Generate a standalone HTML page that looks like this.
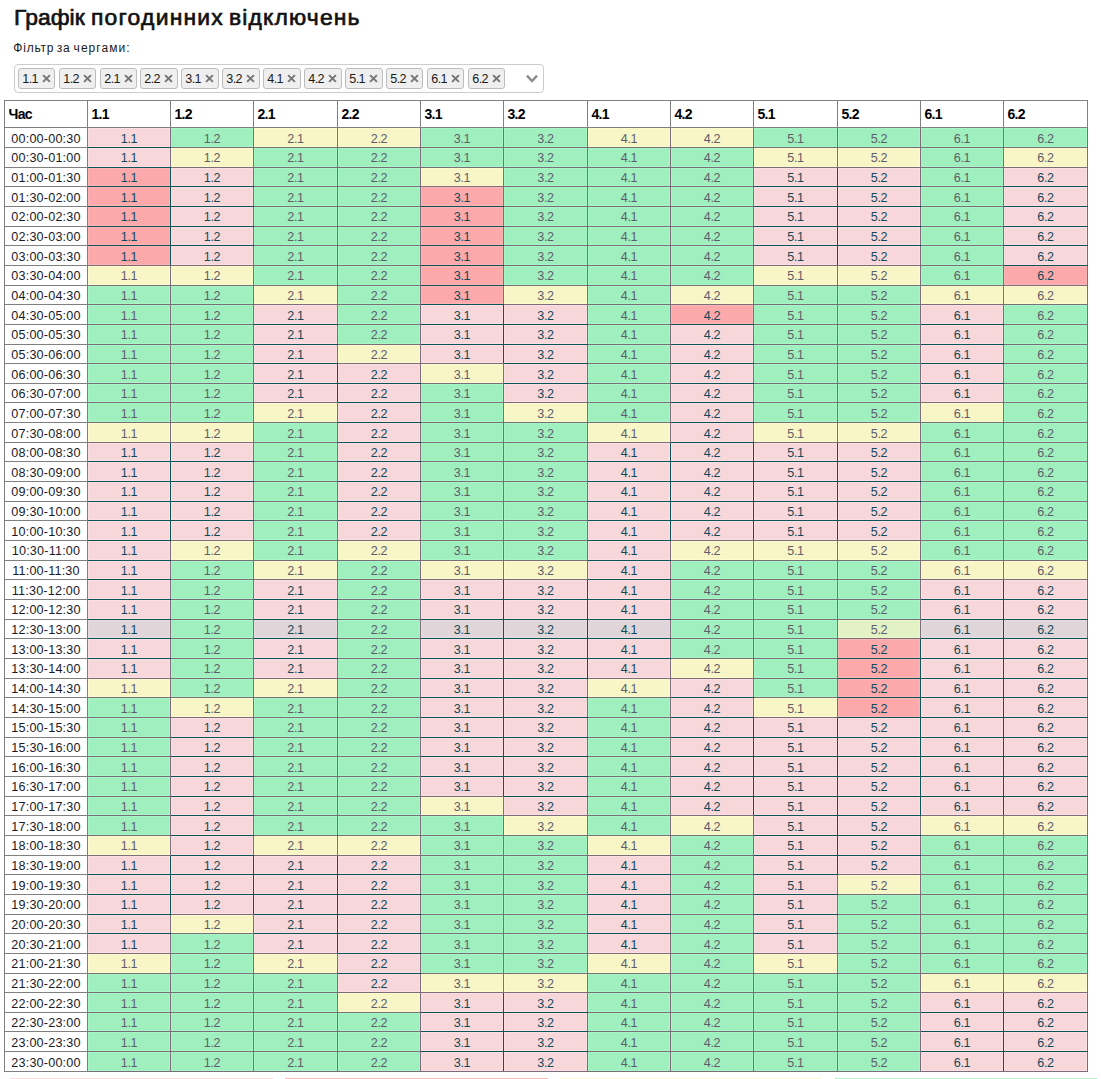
<!DOCTYPE html>
<html lang="uk"><head><meta charset="utf-8"><title>Графік погодинних відключень</title>
<style>
html,body{margin:0;padding:0;background:#fff;}
body{width:1101px;height:1079px;overflow:hidden;position:relative;font-family:"Liberation Sans",sans-serif;color:#000;}
h2{position:absolute;left:0;top:5px;margin:0;width:600px;height:26px;font-size:21.8px;line-height:26px;font-weight:normal;color:#111;-webkit-text-stroke:0.65px #111;white-space:nowrap;}
h2 span{position:absolute;top:0;transform:scaleX(1.05);transform-origin:0 0;}
.lbl{position:absolute;left:0;top:40px;width:300px;height:16px;font-size:12px;line-height:16px;color:#1a1a1a;white-space:nowrap;}
.lbl span{position:absolute;top:0;}
.sel{position:absolute;left:14px;top:64px;width:528px;height:27px;border:1px solid #ccc;border-radius:4px;box-sizing:content-box;background:#fff;}
.chip{position:absolute;top:3px;height:19px;width:35px;border:1px solid #bdbdbd;border-radius:3px;background:#efefef;font-size:12.6px;line-height:19px;color:#1a1a1a;box-sizing:content-box;white-space:nowrap;}
.chip span{position:absolute;left:3.2px;top:1px;letter-spacing:-0.55px;}
.chip svg{position:absolute;left:22.2px;top:3.7px;}
.arrow{position:absolute;left:508.8px;top:6.5px;}
table{position:absolute;left:4px;top:100px;width:1084px;border-collapse:collapse;table-layout:fixed;font-size:12.6px;}
th,td{border:1px solid #808080;padding:0;overflow:hidden;white-space:nowrap;}
th{text-align:left;padding:0 0 1px 3.4px;font-weight:bold;font-size:14px;letter-spacing:-0.6px;color:#000;box-sizing:border-box;height:27px;}
td{text-align:center;line-height:14px;color:#5e5e6b;letter-spacing:-0.35px;vertical-align:top;box-sizing:border-box;}
tr.h20 td{height:20px;}tr.h19 td{height:19px;}
tr.o3 td{padding-top:3px;}tr.o4 td{padding-top:4px;}
td.t{color:#1a1a2a;letter-spacing:0.2px;}
td.p,td.r,td.h,td.g,td.y,td.x{border-color:#7c6d7b;}
td.p{background:#f8d7da;color:#0f4a58;box-shadow:inset 0 0 0 1px #fcdfe2;}
td.r{background:#fca9ab;color:#0f4a58;box-shadow:inset 0 0 0 1px #feb3b5;}
td.h{background:#e0d6d9;color:#0f4a58;box-shadow:inset 0 0 0 1px #e6dde0;}
td.T{border-top-color:#0a5356;}td.B{border-bottom-color:#0a5356;}td.L{border-left-color:#0a5356;}td.R{border-right-color:#0a5356;}
td.g{background:#a0efbf;box-shadow:inset 0 0 0 1px #a5f8c5;}
td.y{background:#f8f5c6;box-shadow:inset 0 0 0 1px #fcfbcc;}
td.x{background:#e3f2c4;box-shadow:inset 0 0 0 1px #e8f8ca;}
.lg{position:absolute;top:1078px;height:1px;}
</style></head>
<body>
<h2><span style="left:13.8px;letter-spacing:0.05px">Графік </span><span style="left:90.5px;letter-spacing:1.16px">погодинних </span><span style="left:228.5px;letter-spacing:1.1px">відключень</span></h2>
<div class="lbl"><span style="left:13.3px;letter-spacing:0.78px">Фільтр </span><span style="left:56.8px;letter-spacing:0.58px">за </span><span style="left:73.6px;letter-spacing:1.05px">чергами:</span></div>
<div class="sel">
<div class="chip" style="left:3px;width:35px"><span>1.1</span><svg width="11" height="11" viewBox="0 0 11 11"><path d="M2.1 2.1 L8.9 8.9 M8.9 2.1 L2.1 8.9" fill="none" stroke="#777" stroke-width="2"/></svg></div>
<div class="chip" style="left:44px;width:35px"><span>1.2</span><svg width="11" height="11" viewBox="0 0 11 11"><path d="M2.1 2.1 L8.9 8.9 M8.9 2.1 L2.1 8.9" fill="none" stroke="#777" stroke-width="2"/></svg></div>
<div class="chip" style="left:85px;width:35px"><span>2.1</span><svg width="11" height="11" viewBox="0 0 11 11"><path d="M2.1 2.1 L8.9 8.9 M8.9 2.1 L2.1 8.9" fill="none" stroke="#777" stroke-width="2"/></svg></div>
<div class="chip" style="left:125px;width:36px"><span>2.2</span><svg width="11" height="11" viewBox="0 0 11 11"><path d="M2.1 2.1 L8.9 8.9 M8.9 2.1 L2.1 8.9" fill="none" stroke="#777" stroke-width="2"/></svg></div>
<div class="chip" style="left:166px;width:36px"><span>3.1</span><svg width="11" height="11" viewBox="0 0 11 11"><path d="M2.1 2.1 L8.9 8.9 M8.9 2.1 L2.1 8.9" fill="none" stroke="#777" stroke-width="2"/></svg></div>
<div class="chip" style="left:207px;width:36px"><span>3.2</span><svg width="11" height="11" viewBox="0 0 11 11"><path d="M2.1 2.1 L8.9 8.9 M8.9 2.1 L2.1 8.9" fill="none" stroke="#777" stroke-width="2"/></svg></div>
<div class="chip" style="left:248px;width:36px"><span>4.1</span><svg width="11" height="11" viewBox="0 0 11 11"><path d="M2.1 2.1 L8.9 8.9 M8.9 2.1 L2.1 8.9" fill="none" stroke="#777" stroke-width="2"/></svg></div>
<div class="chip" style="left:289px;width:36px"><span>4.2</span><svg width="11" height="11" viewBox="0 0 11 11"><path d="M2.1 2.1 L8.9 8.9 M8.9 2.1 L2.1 8.9" fill="none" stroke="#777" stroke-width="2"/></svg></div>
<div class="chip" style="left:330px;width:36px"><span>5.1</span><svg width="11" height="11" viewBox="0 0 11 11"><path d="M2.1 2.1 L8.9 8.9 M8.9 2.1 L2.1 8.9" fill="none" stroke="#777" stroke-width="2"/></svg></div>
<div class="chip" style="left:371px;width:35px"><span>5.2</span><svg width="11" height="11" viewBox="0 0 11 11"><path d="M2.1 2.1 L8.9 8.9 M8.9 2.1 L2.1 8.9" fill="none" stroke="#777" stroke-width="2"/></svg></div>
<div class="chip" style="left:412px;width:35px"><span>6.1</span><svg width="11" height="11" viewBox="0 0 11 11"><path d="M2.1 2.1 L8.9 8.9 M8.9 2.1 L2.1 8.9" fill="none" stroke="#777" stroke-width="2"/></svg></div>
<div class="chip" style="left:453px;width:35px"><span>6.2</span><svg width="11" height="11" viewBox="0 0 11 11"><path d="M2.1 2.1 L8.9 8.9 M8.9 2.1 L2.1 8.9" fill="none" stroke="#777" stroke-width="2"/></svg></div>
<svg class="arrow" width="16" height="14" viewBox="0 0 16 14"><path d="M3 3.6 L8 9 L13 3.6" fill="none" stroke="#8a8a8a" stroke-width="2.3"/></svg>
</div>
<table><colgroup><col style="width:83px"><col style="width:83px"><col style="width:83px"><col style="width:84px"><col style="width:83px"><col style="width:83px"><col style="width:84px"><col style="width:83px"><col style="width:83px"><col style="width:84px"><col style="width:83px"><col style="width:83px"><col style="width:84px"></colgroup><thead><tr><th>Час</th><th>1.1</th><th>1.2</th><th>2.1</th><th>2.2</th><th>3.1</th><th>3.2</th><th>4.1</th><th>4.2</th><th>5.1</th><th>5.2</th><th>6.1</th><th>6.2</th></tr></thead>
<tbody>
<tr class="h20 o4"><td class="t">00:00-00:30</td><td class="p B">1.1</td><td class="g">1.2</td><td class="y">2.1</td><td class="y">2.2</td><td class="g">3.1</td><td class="g">3.2</td><td class="y">4.1</td><td class="y">4.2</td><td class="g">5.1</td><td class="g">5.2</td><td class="g">6.1</td><td class="g">6.2</td></tr>
<tr class="h20 o3"><td class="t">00:30-01:00</td><td class="p T B">1.1</td><td class="y">1.2</td><td class="g">2.1</td><td class="g">2.2</td><td class="g">3.1</td><td class="g">3.2</td><td class="g">4.1</td><td class="g">4.2</td><td class="y">5.1</td><td class="y">5.2</td><td class="g">6.1</td><td class="y">6.2</td></tr>
<tr class="h19 o3"><td class="t">01:00-01:30</td><td class="r T B R">1.1</td><td class="p B L">1.2</td><td class="g">2.1</td><td class="g">2.2</td><td class="y">3.1</td><td class="g">3.2</td><td class="g">4.1</td><td class="g">4.2</td><td class="p B R">5.1</td><td class="p B L">5.2</td><td class="g">6.1</td><td class="p B">6.2</td></tr>
<tr class="h20 o4"><td class="t">01:30-02:00</td><td class="r T B R">1.1</td><td class="p T B L">1.2</td><td class="g">2.1</td><td class="g">2.2</td><td class="r B">3.1</td><td class="g">3.2</td><td class="g">4.1</td><td class="g">4.2</td><td class="p T B R">5.1</td><td class="p T B L">5.2</td><td class="g">6.1</td><td class="p T B">6.2</td></tr>
<tr class="h20 o3"><td class="t">02:00-02:30</td><td class="r T B R">1.1</td><td class="p T B L">1.2</td><td class="g">2.1</td><td class="g">2.2</td><td class="r T B">3.1</td><td class="g">3.2</td><td class="g">4.1</td><td class="g">4.2</td><td class="p T B R">5.1</td><td class="p T B L">5.2</td><td class="g">6.1</td><td class="p T B">6.2</td></tr>
<tr class="h19 o3"><td class="t">02:30-03:00</td><td class="r T B R">1.1</td><td class="p T B L">1.2</td><td class="g">2.1</td><td class="g">2.2</td><td class="r T B">3.1</td><td class="g">3.2</td><td class="g">4.1</td><td class="g">4.2</td><td class="p T B R">5.1</td><td class="p T B L">5.2</td><td class="g">6.1</td><td class="p T B">6.2</td></tr>
<tr class="h20 o4"><td class="t">03:00-03:30</td><td class="r T R">1.1</td><td class="p T L">1.2</td><td class="g">2.1</td><td class="g">2.2</td><td class="r T B">3.1</td><td class="g">3.2</td><td class="g">4.1</td><td class="g">4.2</td><td class="p T R">5.1</td><td class="p T L">5.2</td><td class="g">6.1</td><td class="p T B">6.2</td></tr>
<tr class="h20 o3"><td class="t">03:30-04:00</td><td class="y">1.1</td><td class="y">1.2</td><td class="g">2.1</td><td class="g">2.2</td><td class="r T B">3.1</td><td class="g">3.2</td><td class="g">4.1</td><td class="g">4.2</td><td class="y">5.1</td><td class="y">5.2</td><td class="g">6.1</td><td class="r T">6.2</td></tr>
<tr class="h19 o3"><td class="t">04:00-04:30</td><td class="g">1.1</td><td class="g">1.2</td><td class="y">2.1</td><td class="g">2.2</td><td class="r T B">3.1</td><td class="y">3.2</td><td class="g">4.1</td><td class="y">4.2</td><td class="g">5.1</td><td class="g">5.2</td><td class="y">6.1</td><td class="y">6.2</td></tr>
<tr class="h20 o4"><td class="t">04:30-05:00</td><td class="g">1.1</td><td class="g">1.2</td><td class="p B">2.1</td><td class="g">2.2</td><td class="p T B R">3.1</td><td class="p B L">3.2</td><td class="g">4.1</td><td class="r B">4.2</td><td class="g">5.1</td><td class="g">5.2</td><td class="p B">6.1</td><td class="g">6.2</td></tr>
<tr class="h20 o3"><td class="t">05:00-05:30</td><td class="g">1.1</td><td class="g">1.2</td><td class="p T B">2.1</td><td class="g">2.2</td><td class="p T B R">3.1</td><td class="p T B L">3.2</td><td class="g">4.1</td><td class="p T B">4.2</td><td class="g">5.1</td><td class="g">5.2</td><td class="p T B">6.1</td><td class="g">6.2</td></tr>
<tr class="h19 o3"><td class="t">05:30-06:00</td><td class="g">1.1</td><td class="g">1.2</td><td class="p T B">2.1</td><td class="y">2.2</td><td class="p T R">3.1</td><td class="p T B L">3.2</td><td class="g">4.1</td><td class="p T B">4.2</td><td class="g">5.1</td><td class="g">5.2</td><td class="p T B">6.1</td><td class="g">6.2</td></tr>
<tr class="h20 o4"><td class="t">06:00-06:30</td><td class="g">1.1</td><td class="g">1.2</td><td class="p T B R">2.1</td><td class="p B L">2.2</td><td class="y">3.1</td><td class="p T B">3.2</td><td class="g">4.1</td><td class="p T B">4.2</td><td class="g">5.1</td><td class="g">5.2</td><td class="p T B">6.1</td><td class="g">6.2</td></tr>
<tr class="h19 o3"><td class="t">06:30-07:00</td><td class="g">1.1</td><td class="g">1.2</td><td class="p T R">2.1</td><td class="p T B L">2.2</td><td class="g">3.1</td><td class="p T">3.2</td><td class="g">4.1</td><td class="p T B">4.2</td><td class="g">5.1</td><td class="g">5.2</td><td class="p T">6.1</td><td class="g">6.2</td></tr>
<tr class="h20 o4"><td class="t">07:00-07:30</td><td class="g">1.1</td><td class="g">1.2</td><td class="y">2.1</td><td class="p T B">2.2</td><td class="g">3.1</td><td class="y">3.2</td><td class="g">4.1</td><td class="p T B">4.2</td><td class="g">5.1</td><td class="g">5.2</td><td class="y">6.1</td><td class="g">6.2</td></tr>
<tr class="h20 o4"><td class="t">07:30-08:00</td><td class="y">1.1</td><td class="y">1.2</td><td class="g">2.1</td><td class="p T B">2.2</td><td class="g">3.1</td><td class="g">3.2</td><td class="y">4.1</td><td class="p T B">4.2</td><td class="y">5.1</td><td class="y">5.2</td><td class="g">6.1</td><td class="g">6.2</td></tr>
<tr class="h19 o3"><td class="t">08:00-08:30</td><td class="p B R">1.1</td><td class="p B L">1.2</td><td class="g">2.1</td><td class="p T B">2.2</td><td class="g">3.1</td><td class="g">3.2</td><td class="p B R">4.1</td><td class="p T B L R">4.2</td><td class="p B L R">5.1</td><td class="p B L">5.2</td><td class="g">6.1</td><td class="g">6.2</td></tr>
<tr class="h20 o4"><td class="t">08:30-09:00</td><td class="p T B R">1.1</td><td class="p T B L">1.2</td><td class="g">2.1</td><td class="p T B">2.2</td><td class="g">3.1</td><td class="g">3.2</td><td class="p T B R">4.1</td><td class="p T B L R">4.2</td><td class="p T B L R">5.1</td><td class="p T B L">5.2</td><td class="g">6.1</td><td class="g">6.2</td></tr>
<tr class="h20 o3"><td class="t">09:00-09:30</td><td class="p T B R">1.1</td><td class="p T B L">1.2</td><td class="g">2.1</td><td class="p T B">2.2</td><td class="g">3.1</td><td class="g">3.2</td><td class="p T B R">4.1</td><td class="p T B L R">4.2</td><td class="p T B L R">5.1</td><td class="p T B L">5.2</td><td class="g">6.1</td><td class="g">6.2</td></tr>
<tr class="h19 o3"><td class="t">09:30-10:00</td><td class="p T B R">1.1</td><td class="p T B L">1.2</td><td class="g">2.1</td><td class="p T B">2.2</td><td class="g">3.1</td><td class="g">3.2</td><td class="p T B R">4.1</td><td class="p T B L R">4.2</td><td class="p T B L R">5.1</td><td class="p T B L">5.2</td><td class="g">6.1</td><td class="g">6.2</td></tr>
<tr class="h20 o4"><td class="t">10:00-10:30</td><td class="p T B R">1.1</td><td class="p T L">1.2</td><td class="g">2.1</td><td class="p T">2.2</td><td class="g">3.1</td><td class="g">3.2</td><td class="p T B R">4.1</td><td class="p T L R">4.2</td><td class="p T L R">5.1</td><td class="p T L">5.2</td><td class="g">6.1</td><td class="g">6.2</td></tr>
<tr class="h20 o3"><td class="t">10:30-11:00</td><td class="p T B">1.1</td><td class="y">1.2</td><td class="g">2.1</td><td class="y">2.2</td><td class="g">3.1</td><td class="g">3.2</td><td class="p T B">4.1</td><td class="y">4.2</td><td class="y">5.1</td><td class="y">5.2</td><td class="g">6.1</td><td class="g">6.2</td></tr>
<tr class="h19 o3"><td class="t">11:00-11:30</td><td class="p T B">1.1</td><td class="g">1.2</td><td class="y">2.1</td><td class="g">2.2</td><td class="y">3.1</td><td class="y">3.2</td><td class="p T B">4.1</td><td class="g">4.2</td><td class="g">5.1</td><td class="g">5.2</td><td class="y">6.1</td><td class="y">6.2</td></tr>
<tr class="h20 o4"><td class="t">11:30-12:00</td><td class="p T B">1.1</td><td class="g">1.2</td><td class="p B">2.1</td><td class="g">2.2</td><td class="p B R">3.1</td><td class="p B L R">3.2</td><td class="p T B L">4.1</td><td class="g">4.2</td><td class="g">5.1</td><td class="g">5.2</td><td class="p B R">6.1</td><td class="p B L">6.2</td></tr>
<tr class="h20 o3"><td class="t">12:00-12:30</td><td class="p T B">1.1</td><td class="g">1.2</td><td class="p T B">2.1</td><td class="g">2.2</td><td class="p T B R">3.1</td><td class="p T B L R">3.2</td><td class="p T B L">4.1</td><td class="g">4.2</td><td class="g">5.1</td><td class="g">5.2</td><td class="p T B R">6.1</td><td class="p T B L">6.2</td></tr>
<tr class="h19 o3"><td class="t">12:30-13:00</td><td class="h T B">1.1</td><td class="g">1.2</td><td class="h T B">2.1</td><td class="g">2.2</td><td class="h T B R">3.1</td><td class="h T B L R">3.2</td><td class="h T B L">4.1</td><td class="g">4.2</td><td class="g">5.1</td><td class="x">5.2</td><td class="h T B R">6.1</td><td class="h T B L">6.2</td></tr>
<tr class="h20 o4"><td class="t">13:00-13:30</td><td class="p T B">1.1</td><td class="g">1.2</td><td class="p T B">2.1</td><td class="g">2.2</td><td class="p T B R">3.1</td><td class="p T B L R">3.2</td><td class="p T B L">4.1</td><td class="g">4.2</td><td class="g">5.1</td><td class="r B R">5.2</td><td class="p T B L R">6.1</td><td class="p T B L">6.2</td></tr>
<tr class="h20 o3"><td class="t">13:30-14:00</td><td class="p T">1.1</td><td class="g">1.2</td><td class="p T">2.1</td><td class="g">2.2</td><td class="p T B R">3.1</td><td class="p T B L R">3.2</td><td class="p T L">4.1</td><td class="y">4.2</td><td class="g">5.1</td><td class="r T B R">5.2</td><td class="p T B L R">6.1</td><td class="p T B L">6.2</td></tr>
<tr class="h19 o3"><td class="t">14:00-14:30</td><td class="y">1.1</td><td class="g">1.2</td><td class="y">2.1</td><td class="g">2.2</td><td class="p T B R">3.1</td><td class="p T B L">3.2</td><td class="y">4.1</td><td class="p B">4.2</td><td class="g">5.1</td><td class="r T B R">5.2</td><td class="p T B L R">6.1</td><td class="p T B L">6.2</td></tr>
<tr class="h20 o4"><td class="t">14:30-15:00</td><td class="g">1.1</td><td class="y">1.2</td><td class="g">2.1</td><td class="g">2.2</td><td class="p T B R">3.1</td><td class="p T B L">3.2</td><td class="g">4.1</td><td class="p T B">4.2</td><td class="y">5.1</td><td class="r T B R">5.2</td><td class="p T B L R">6.1</td><td class="p T B L">6.2</td></tr>
<tr class="h20 o3"><td class="t">15:00-15:30</td><td class="g">1.1</td><td class="p B">1.2</td><td class="g">2.1</td><td class="g">2.2</td><td class="p T B R">3.1</td><td class="p T B L">3.2</td><td class="g">4.1</td><td class="p T B R">4.2</td><td class="p B L R">5.1</td><td class="p T B L R">5.2</td><td class="p T B L R">6.1</td><td class="p T B L">6.2</td></tr>
<tr class="h19 o3"><td class="t">15:30-16:00</td><td class="g">1.1</td><td class="p T B">1.2</td><td class="g">2.1</td><td class="g">2.2</td><td class="p T B R">3.1</td><td class="p T B L">3.2</td><td class="g">4.1</td><td class="p T B R">4.2</td><td class="p T B L R">5.1</td><td class="p T B L R">5.2</td><td class="p T B L R">6.1</td><td class="p T B L">6.2</td></tr>
<tr class="h20 o4"><td class="t">16:00-16:30</td><td class="g">1.1</td><td class="p T B">1.2</td><td class="g">2.1</td><td class="g">2.2</td><td class="p T B R">3.1</td><td class="p T B L">3.2</td><td class="g">4.1</td><td class="p T B R">4.2</td><td class="p T B L R">5.1</td><td class="p T B L R">5.2</td><td class="p T B L R">6.1</td><td class="p T B L">6.2</td></tr>
<tr class="h20 o3"><td class="t">16:30-17:00</td><td class="g">1.1</td><td class="p T B">1.2</td><td class="g">2.1</td><td class="g">2.2</td><td class="p T R">3.1</td><td class="p T B L">3.2</td><td class="g">4.1</td><td class="p T B R">4.2</td><td class="p T B L R">5.1</td><td class="p T B L R">5.2</td><td class="p T B L R">6.1</td><td class="p T B L">6.2</td></tr>
<tr class="h19 o3"><td class="t">17:00-17:30</td><td class="g">1.1</td><td class="p T B">1.2</td><td class="g">2.1</td><td class="g">2.2</td><td class="y">3.1</td><td class="p T">3.2</td><td class="g">4.1</td><td class="p T R">4.2</td><td class="p T B L R">5.1</td><td class="p T B L R">5.2</td><td class="p T L R">6.1</td><td class="p T L">6.2</td></tr>
<tr class="h20 o4"><td class="t">17:30-18:00</td><td class="g">1.1</td><td class="p T B">1.2</td><td class="g">2.1</td><td class="g">2.2</td><td class="g">3.1</td><td class="y">3.2</td><td class="g">4.1</td><td class="y">4.2</td><td class="p T B R">5.1</td><td class="p T B L">5.2</td><td class="y">6.1</td><td class="y">6.2</td></tr>
<tr class="h20 o3"><td class="t">18:00-18:30</td><td class="y">1.1</td><td class="p T B">1.2</td><td class="y">2.1</td><td class="y">2.2</td><td class="g">3.1</td><td class="g">3.2</td><td class="y">4.1</td><td class="g">4.2</td><td class="p T B R">5.1</td><td class="p T B L">5.2</td><td class="g">6.1</td><td class="g">6.2</td></tr>
<tr class="h19 o3"><td class="t">18:30-19:00</td><td class="p B R">1.1</td><td class="p T B L R">1.2</td><td class="p B L R">2.1</td><td class="p B L">2.2</td><td class="g">3.1</td><td class="g">3.2</td><td class="p B">4.1</td><td class="g">4.2</td><td class="p T B R">5.1</td><td class="p T L">5.2</td><td class="g">6.1</td><td class="g">6.2</td></tr>
<tr class="h20 o4"><td class="t">19:00-19:30</td><td class="p T B R">1.1</td><td class="p T B L R">1.2</td><td class="p T B L R">2.1</td><td class="p T B L">2.2</td><td class="g">3.1</td><td class="g">3.2</td><td class="p T B">4.1</td><td class="g">4.2</td><td class="p T B">5.1</td><td class="y">5.2</td><td class="g">6.1</td><td class="g">6.2</td></tr>
<tr class="h20 o3"><td class="t">19:30-20:00</td><td class="p T B R">1.1</td><td class="p T L R">1.2</td><td class="p T B L R">2.1</td><td class="p T B L">2.2</td><td class="g">3.1</td><td class="g">3.2</td><td class="p T B">4.1</td><td class="g">4.2</td><td class="p T B">5.1</td><td class="g">5.2</td><td class="g">6.1</td><td class="g">6.2</td></tr>
<tr class="h19 o3"><td class="t">20:00-20:30</td><td class="p T B">1.1</td><td class="y">1.2</td><td class="p T B R">2.1</td><td class="p T B L">2.2</td><td class="g">3.1</td><td class="g">3.2</td><td class="p T B">4.1</td><td class="g">4.2</td><td class="p T B">5.1</td><td class="g">5.2</td><td class="g">6.1</td><td class="g">6.2</td></tr>
<tr class="h20 o4"><td class="t">20:30-21:00</td><td class="p T">1.1</td><td class="g">1.2</td><td class="p T R">2.1</td><td class="p T B L">2.2</td><td class="g">3.1</td><td class="g">3.2</td><td class="p T">4.1</td><td class="g">4.2</td><td class="p T">5.1</td><td class="g">5.2</td><td class="g">6.1</td><td class="g">6.2</td></tr>
<tr class="h20 o3"><td class="t">21:00-21:30</td><td class="y">1.1</td><td class="g">1.2</td><td class="y">2.1</td><td class="p T B">2.2</td><td class="g">3.1</td><td class="g">3.2</td><td class="y">4.1</td><td class="g">4.2</td><td class="y">5.1</td><td class="g">5.2</td><td class="g">6.1</td><td class="g">6.2</td></tr>
<tr class="h19 o3"><td class="t">21:30-22:00</td><td class="g">1.1</td><td class="g">1.2</td><td class="g">2.1</td><td class="p T">2.2</td><td class="y">3.1</td><td class="y">3.2</td><td class="g">4.1</td><td class="g">4.2</td><td class="g">5.1</td><td class="g">5.2</td><td class="y">6.1</td><td class="y">6.2</td></tr>
<tr class="h20 o4"><td class="t">22:00-22:30</td><td class="g">1.1</td><td class="g">1.2</td><td class="g">2.1</td><td class="y">2.2</td><td class="p B R">3.1</td><td class="p B L">3.2</td><td class="g">4.1</td><td class="g">4.2</td><td class="g">5.1</td><td class="g">5.2</td><td class="p B R">6.1</td><td class="p B L">6.2</td></tr>
<tr class="h19 o3"><td class="t">22:30-23:00</td><td class="g">1.1</td><td class="g">1.2</td><td class="g">2.1</td><td class="g">2.2</td><td class="p T B R">3.1</td><td class="p T B L">3.2</td><td class="g">4.1</td><td class="g">4.2</td><td class="g">5.1</td><td class="g">5.2</td><td class="p T B R">6.1</td><td class="p T B L">6.2</td></tr>
<tr class="h20 o4"><td class="t">23:00-23:30</td><td class="g">1.1</td><td class="g">1.2</td><td class="g">2.1</td><td class="g">2.2</td><td class="p T B R">3.1</td><td class="p T B L">3.2</td><td class="g">4.1</td><td class="g">4.2</td><td class="g">5.1</td><td class="g">5.2</td><td class="p T B R">6.1</td><td class="p T B L">6.2</td></tr>
<tr class="h20 o4"><td class="t">23:30-00:00</td><td class="g">1.1</td><td class="g">1.2</td><td class="g">2.1</td><td class="g">2.2</td><td class="p T R">3.1</td><td class="p T L">3.2</td><td class="g">4.1</td><td class="g">4.2</td><td class="g">5.1</td><td class="g">5.2</td><td class="p T R">6.1</td><td class="p T L">6.2</td></tr>
</tbody></table>
<div class="lg" style="left:10px;width:262.5px;background:#fadfe1"></div><div class="lg" style="left:285px;width:262.5px;background:#fcb9bb"></div><div class="lg" style="left:560px;width:262px;background:#faf8d6"></div><div class="lg" style="left:835px;width:262px;background:#b3f2cc"></div>
</body></html>
